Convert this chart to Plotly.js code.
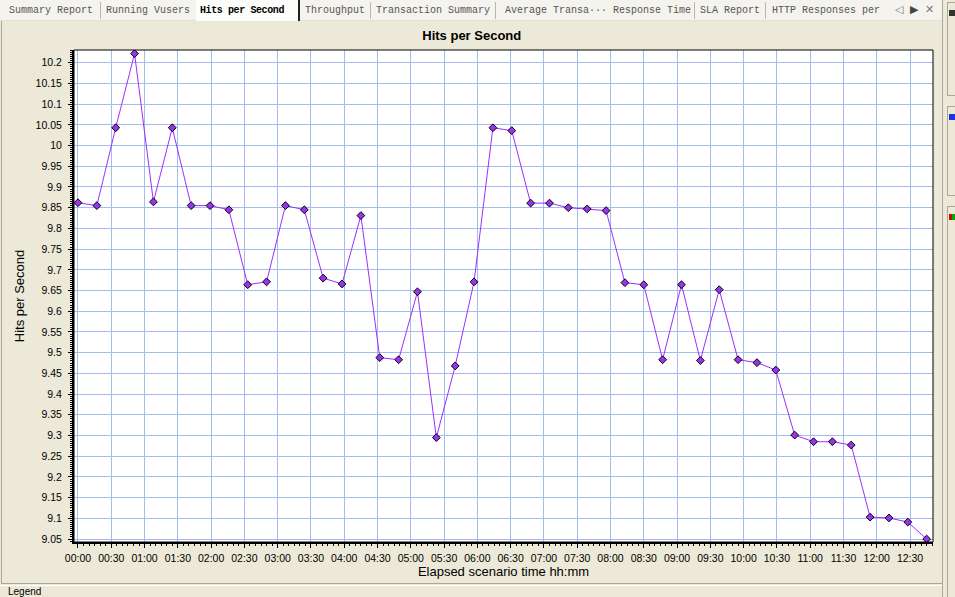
<!DOCTYPE html>
<html>
<head>
<meta charset="utf-8">
<script src="https://cdn.plot.ly/plotly-3.0.1.min.js"></script>
<style>
  html, body { margin:0; padding:0; width:955px; height:597px; overflow:hidden; background:#ece9d8; font-family:"Liberation Sans", Arial, sans-serif; }
  #chart { position:absolute; left:0; top:0; width:955px; height:597px; z-index:1; }
  #tabs { position:absolute; left:0; top:0; width:942px; height:20px; background:#f4f3ee; border-bottom:1px solid #e2e0d6; z-index:2; }
  .tab { position:absolute; top:5px; font-family:"Liberation Mono", "DejaVu Sans Mono", monospace; font-size:10px; color:#555; white-space:nowrap; line-height:12px; }
  .sep { position:absolute; top:2px; width:1px; height:17px; background:#b9b6a8; }
  #active { position:absolute; left:196px; top:0; width:102px; height:21px; background:#fdfdfb; border-right:2px solid #222; }
  .ctl { position:absolute; top:3px; font-size:11px; color:#777; }
  #leftline { position:absolute; left:1px; top:21px; width:1px; height:563px; background:#aca899; z-index:2; }
  #botline { position:absolute; left:1px; top:583px; width:941px; height:1px; background:#aca899; z-index:2; }
  #rightcol { position:absolute; left:942px; top:0; width:13px; height:597px; background:#ece9d8; border-left:1px solid #aca899; z-index:2; }
  .side { position:absolute; left:4px; width:12px; border:1px solid #aca899; background:#ece9d8; }
  .icon { position:absolute; left:6px; width:7px; height:6px; }
  #legend { position:absolute; left:8px; top:586px; font-size:10px; line-height:11px; color:#000; z-index:2; }
  #legend2 { position:absolute; left:0; top:585px; width:942px; height:12px; border-top:1px solid #fff; z-index:2; }
</style>
</head>
<body>
<div id="chart"></div>
<div id="tabs">
  <div class="tab" style="left:9px;">Summary Report</div>
  <div class="sep" style="left:100px;"></div>
  <div class="tab" style="left:106px;">Running Vusers</div>
  <div id="active"></div>
  <div class="tab" style="left:200px;color:#000;font-weight:bold;letter-spacing:-0.4px;">Hits per Second</div>
  <div class="tab" style="left:305px;">Throughput</div>
  <div class="sep" style="left:370px;"></div>
  <div class="tab" style="left:376px;">Transaction Summary</div>
  <div class="sep" style="left:495px;"></div>
  <div class="tab" style="left:505px;">Average Transa··· Response Time</div>
  <div class="sep" style="left:694px;"></div>
  <div class="tab" style="left:700px;">SLA Report</div>
  <div class="sep" style="left:765px;"></div>
  <div class="tab" style="left:772px;">HTTP Responses per</div>
  <div class="ctl" style="left:895px;">&#9665;</div>
  <div class="ctl" style="left:910px;color:#444;">&#9654;</div>
  <div class="ctl" style="left:925px;">&#10005;</div>
</div>
<div id="leftline"></div>
<div id="botline"></div>
<div id="legend2"></div>
<div id="legend">Legend</div>
<div id="rightcol">
  <div class="side" style="top:2px;height:92px;"></div>
  <div class="icon" style="top:10px;background:#333;"></div>
  <div class="side" style="top:106px;height:88px;"></div>
  <div class="icon" style="top:114px;background:#2233dd;"></div>
  <div class="side" style="top:206px;height:400px;"></div>
  <div class="icon" style="top:214px;background:linear-gradient(90deg,#d00 50%,#0a0 50%);"></div>
</div>
<script>
// Elapsed time of each sample (seconds since scenario start)
const elapsed = [0,17,34,51,68,85,102,119,136,153,170,187,204,221,238,255,272,289,306,323,340,357,374,391,408,425,442,459,476,493,510,527,544,561,578,595,612,629,646,663,680,697,714,731,748,765];
// Hits per second values
const hitsPerSecond = [9.862,9.855,10.043,10.222,9.864,10.043,9.855,9.855,9.845,9.664,9.671,9.855,9.845,9.680,9.666,9.831,9.488,9.483,9.647,9.295,9.468,9.671,10.043,10.036,9.861,9.861,9.850,9.847,9.843,9.669,9.664,9.483,9.664,9.481,9.652,9.483,9.476,9.458,9.301,9.285,9.285,9.277,9.103,9.101,9.091,9.050];
// X tick positions and labels
const xTickVals = [0,30,60,90,120,150,180,210,240,270,300,330,360,390,420,450,480,510,540,570,600,630,660,690,720,750];
const xTickText = ["00:00","00:30","01:00","01:30","02:00","02:30","03:00","03:30","04:00","04:30","05:00","05:30","06:00","06:30","07:00","07:30","08:00","08:30","09:00","09:30","10:00","10:30","11:00","11:30","12:00","12:30"];
// Y tick positions and labels
const yTickVals = [9.05,9.1,9.15,9.2,9.25,9.3,9.35,9.4,9.45,9.5,9.55,9.6,9.65,9.7,9.75,9.8,9.85,9.9,9.95,10,10.05,10.1,10.15,10.2];
const yTickText = ["9.05","9.1","9.15","9.2","9.25","9.3","9.35","9.4","9.45","9.5","9.55","9.6","9.65","9.7","9.75","9.8","9.85","9.9","9.95","10","10.05","10.1","10.15","10.2"];

const trace = {
  x: elapsed,
  y: hitsPerSecond,
  type: 'scatter',
  mode: 'lines+markers',
  line: { color: '#9b30ff', width: 1 },
  marker: { symbol: 'diamond', size: 6, color: '#9a33ee', line: { color: '#000', width: 1 } },
  hoverinfo: 'skip'
};

const axisFont = { family: '"Liberation Sans", Arial, sans-serif', size: 10.5, color: '#000' };

const layout = {
  width: 955, height: 597,
  margin: { l: 74, r: 22, t: 50, b: 55 },
  paper_bgcolor: 'rgba(0,0,0,0)',
  plot_bgcolor: '#ffffff',
  showlegend: false,
  title: {
    text: '<b>Hits per Second</b>',
    font: { family: '"Liberation Sans", Arial, sans-serif', size: 13, color: '#000' },
    x: 0.494, xref: 'container', xanchor: 'center',
    y: 1 - 35/597, yref: 'container', yanchor: 'middle'
  },
  xaxis: {
    range: [-3.6, 770.7],
    tickmode: 'array', tickvals: xTickVals, ticktext: xTickText,
    tickfont: axisFont,
    ticks: 'outside', ticklen: 4, tickwidth: 1, tickcolor: '#000',
    ticklabelstandoff: 1,
    showgrid: true, gridcolor: '#a2bcf2', gridwidth: 1,
    showline: true, linecolor: '#000', linewidth: 2,
    zeroline: false,
    minor: { tickmode: 'linear', tick0: 0, dtick: 5, ticks: 'outside', ticklen: 2, tickcolor: '#000', showgrid: false },
    title: { text: 'Elapsed scenario time hh:mm', font: { family: '"Liberation Sans", Arial, sans-serif', size: 13, color: '#000' }, standoff: 4 },
    fixedrange: true
  },
  yaxis: {
    range: [9.0429, 10.2307],
    tickmode: 'array', tickvals: yTickVals, ticktext: yTickText,
    tickfont: axisFont,
    ticks: 'outside', ticklen: 4, tickwidth: 1, tickcolor: '#000',
    ticklabelstandoff: 4,
    showgrid: true, gridcolor: '#a2bcf2', gridwidth: 1,
    showline: true, linecolor: '#000', linewidth: 2,
    zeroline: false,
    minor: { tickmode: 'linear', tick0: 9, dtick: 0.005, ticks: 'outside', ticklen: 2, tickcolor: '#000', showgrid: false },
    title: { text: 'Hits per Second', font: { family: '"Liberation Sans", Arial, sans-serif', size: 13, color: '#000' }, standoff: 8 },
    fixedrange: true
  },
  shapes: [
    { type: 'rect', xref: 'paper', yref: 'paper', x0: 0, x1: 1, y0: 0, y1: 1, line: { color: '#000', width: 1 }, fillcolor: 'rgba(0,0,0,0)', layer: 'above' }
  ]
};

Plotly.newPlot('chart', [trace], layout, { staticPlot: true, displayModeBar: false });
</script>
</body>
</html>
